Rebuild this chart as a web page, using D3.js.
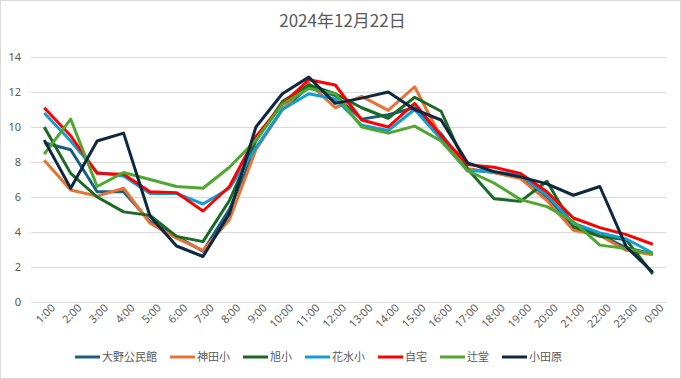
<!DOCTYPE html>
<html>
<head>
<meta charset="utf-8">
<script src="https://d3js.org/d3.v7.min.js"></script>
<style>
  body { margin: 0; background: #fff; }
  text { font-family: "Noto Sans CJK JP", "Noto Sans", sans-serif; fill: #595959; }
</style>
</head>
<body>
<div id="chart"></div>
<script>
// hours along the x axis
const hours = ["1:00","2:00","3:00","4:00","5:00","6:00","7:00","8:00","9:00","10:00","11:00","12:00",
               "13:00","14:00","15:00","16:00","17:00","18:00","19:00","20:00","21:00","22:00","23:00","0:00"];
const yTicks = [0, 2, 4, 6, 8, 10, 12, 14];

const seriesNames = ["大野公民館", "神田小", "旭小", "花水小", "自宅", "辻堂", "小田原"];
const seriesColors = ["#156082", "#E97132", "#196B24", "#0F9ED5", "#FF0000", "#4EA72E", "#0E2841"];

const oono    = [9.1, 8.7, 6.3, 6.3, 4.6, 3.75, 2.9, 5.3, 8.8, 11.0, 12.3, 11.8, 10.45, 10.7, 11.1, 9.6, 7.6, 7.4, 7.1, 5.9, 4.3, 3.85, 3.1, 2.75];
const kanda   = [8.1, 6.4, 6.05, 6.5, 4.5, 3.65, 2.95, 4.7, 8.7, 11.0, 12.5, 11.1, 11.75, 10.95, 12.3, 9.4, 7.6, 7.4, 7.05, 5.8, 4.1, 3.8, 2.95, 2.7];
const asahi   = [10.0, 7.35, 6.0, 5.15, 4.95, 3.75, 3.45, 5.8, 9.2, 11.45, 12.4, 11.9, 11.1, 10.5, 11.7, 10.9, 7.6, 5.9, 5.75, 6.9, 4.3, 3.75, 3.55, 1.6];
const hanamizu= [10.8, 9.2, 7.4, 7.2, 6.2, 6.2, 5.6, 6.5, 8.8, 11.0, 11.9, 11.6, 10.1, 9.8, 11.0, 9.3, 7.5, 7.45, 7.25, 6.1, 4.5, 3.95, 3.6, 2.8];
const jitaku  = [11.1, 9.5, 7.35, 7.3, 6.3, 6.25, 5.2, 6.6, 9.45, 11.3, 12.7, 12.4, 10.4, 10.0, 11.35, 9.5, 7.85, 7.7, 7.35, 6.3, 4.8, 4.25, 3.85, 3.3];
const tsujido = [8.45, 10.45, 6.6, 7.4, 7.0, 6.6, 6.5, 7.7, 9.25, 11.3, 12.2, 11.9, 10.0, 9.65, 10.05, 9.2, 7.5, 6.8, 5.85, 5.45, 4.6, 3.25, 3.05, 2.75];
const odawara = [9.25, 6.5, 9.2, 9.65, 4.9, 3.2, 2.6, 5.05, 10.0, 11.9, 12.85, 11.35, 11.65, 12.0, 11.0, 10.4, 7.95, 7.45, 7.15, 6.75, 6.1, 6.6, 3.15, 1.7];

const seriesValues = [oono, kanda, asahi, hanamizu, jitaku, tsujido, odawara];

const W = 681, H = 379;
const margin = {top: 57, right: 15, bottom: 77, left: 31};
const width = W - margin.left - margin.right,
      height = H - margin.top - margin.bottom;

const svg = d3.select("#chart").append("svg")
    .attr("width", W).attr("height", H);

// chart border
svg.append("rect")
    .attr("x", 0.5).attr("y", 0.5)
    .attr("width", W - 1).attr("height", H - 1)
    .attr("fill", "#fff").attr("stroke", "#D9D9D9");

svg.append("text")
    .attr("x", W / 2 + 2).attr("y", 27)
    .attr("text-anchor", "middle")
    .style("font-size", "17px")
    .text("2024年12月22日");

const g = svg.append("g")
    .attr("transform", "translate(" + margin.left + "," + margin.top + ")");

const x = d3.scalePoint().domain(hours).range([0, width]).padding(0.5);
const y = d3.scaleLinear().domain([0, 14]).range([height, 0]);

// gridlines
g.append("g")
    .call(d3.axisLeft(y).tickValues(yTicks).tickSize(-width).tickFormat(""))
    .call(a => a.select(".domain").remove())
    .call(a => a.selectAll("line").attr("stroke", "#D9D9D9"));

// y labels
g.append("g")
    .call(d3.axisLeft(y).tickValues(yTicks).tickSize(0).tickPadding(10))
    .call(a => a.select(".domain").remove())
    .call(a => a.selectAll("text").style("font-size", "11px").attr("fill", "#595959")
        .style("font-family", "'Noto Sans', sans-serif"));

// x labels
g.append("g")
    .attr("transform", "translate(0," + height + ")")
    .call(d3.axisBottom(x).tickSize(0).tickPadding(6))
    .call(a => a.select(".domain").remove())
    .call(a => a.selectAll("text")
        .style("font-size", "11px").attr("fill", "#595959")
        .style("font-family", "'Noto Sans', sans-serif")
        .attr("text-anchor", "end")
        .attr("dx", "0.3em").attr("dy", "0.6em")
        .attr("transform", "rotate(-45)"));

const line = d3.line()
    .x((d, i) => x(hours[i]))
    .y(d => y(d));

seriesValues.forEach((vals, k) => {
    g.append("path")
        .datum(vals)
        .attr("fill", "none")
        .attr("stroke", seriesColors[k])
        .attr("stroke-width", 3)
        .attr("stroke-linejoin", "round")
        .attr("d", line);
});

// legend
const legend = svg.append("g").attr("transform", "translate(0,357)");
let lx = 75;
seriesNames.forEach((name, k) => {
    const item = legend.append("g").attr("transform", "translate(" + lx + ",0)");
    item.append("line")
        .attr("x1", 0).attr("x2", 25)
        .attr("stroke", seriesColors[k]).attr("stroke-width", 3);
    const t = item.append("text")
        .attr("x", 27).attr("y", 4)
        .style("font-size", "11px")
        .text(name);
    lx += 27 + t.node().getComputedTextLength() + 13;
});
</script>
</body>
</html>
